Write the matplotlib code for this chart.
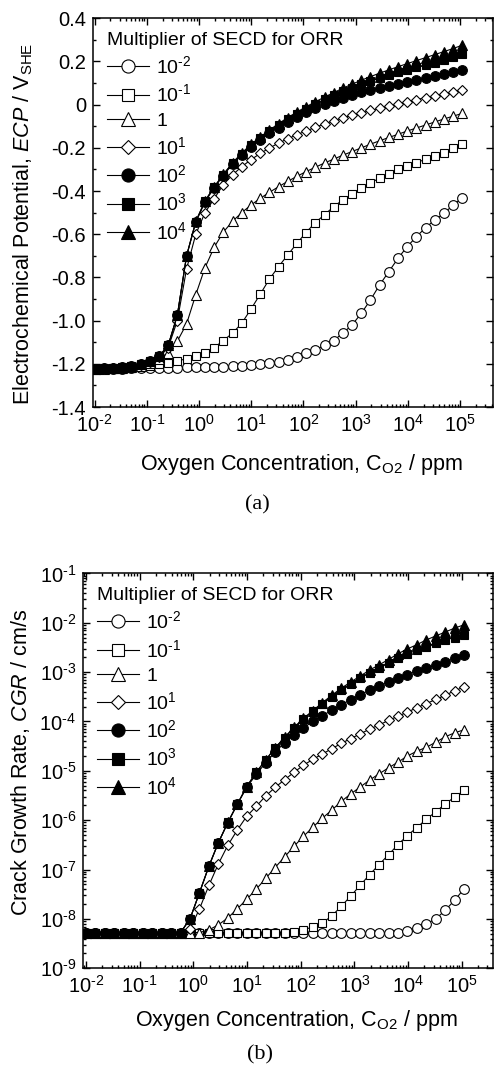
import numpy as np
import matplotlib
matplotlib.use("Agg")
import matplotlib.pyplot as plt
from matplotlib.ticker import FixedLocator, FuncFormatter, LogLocator, NullFormatter, MultipleLocator

# oxygen concentration grid (ppm), same for every curve
C_O2 = [0.01, 0.015, 0.0225, 0.0338, 0.0506, 0.0759, 0.114, 0.171, 0.256, 0.384,
        0.577, 0.865, 1.30, 1.95, 2.92, 4.38, 6.57, 9.85, 14.8, 22.2,
        33.3, 49.9, 74.8, 112, 168, 253, 379, 568, 852, 1280,
        1920, 2880, 4320, 6480, 9710, 14600, 21900, 32800, 49300, 73900,
        111000]

LABELS = ["$10^{\\text{-}2}$", "$10^{\\text{-}1}$", "1", "$10^{1}$", "$10^{2}$", "$10^{3}$", "$10^{4}$"]

# (a) ECP / V_SHE
ECP_M2 = [-1.223, -1.223, -1.222, -1.222, -1.221, -1.221, -1.220, -1.220, -1.219, -1.218,
          -1.217, -1.216, -1.215, -1.214, -1.213, -1.212, -1.209, -1.206, -1.202, -1.197,
          -1.191, -1.182, -1.169, -1.151, -1.135, -1.115, -1.092, -1.058, -1.020, -0.966,
          -0.904, -0.834, -0.773, -0.711, -0.657, -0.611, -0.569, -0.534, -0.503, -0.464,
          -0.430]
ECP_M1 = [-1.222, -1.222, -1.221, -1.220, -1.218, -1.215, -1.210, -1.203, -1.194, -1.185,
          -1.178, -1.163, -1.148, -1.125, -1.092, -1.058, -1.012, -0.947, -0.878, -0.808,
          -0.750, -0.696, -0.642, -0.592, -0.546, -0.510, -0.472, -0.441, -0.415, -0.387,
          -0.361, -0.341, -0.320, -0.300, -0.284, -0.268, -0.253, -0.237, -0.222, -0.202,
          -0.183]
ECP_1 = [-1.222, -1.222, -1.221, -1.219, -1.215, -1.208, -1.196, -1.178, -1.150, -1.095,
         -1.015, -0.880, -0.755, -0.660, -0.590, -0.540, -0.500, -0.465, -0.434, -0.406,
         -0.380, -0.355, -0.332, -0.310, -0.290, -0.270, -0.252, -0.234, -0.217, -0.200,
         -0.183, -0.167, -0.152, -0.137, -0.122, -0.108, -0.094, -0.080, -0.066, -0.053,
         -0.040]
ECP_10 = [-1.222, -1.222, -1.221, -1.219, -1.214, -1.206, -1.192, -1.170, -1.125, -1.000,
          -0.760, -0.600, -0.500, -0.435, -0.370, -0.325, -0.287, -0.255, -0.226, -0.201,
          -0.178, -0.158, -0.139, -0.122, -0.105, -0.089, -0.074, -0.061, -0.049, -0.038,
          -0.027, -0.017, -0.007, 0.003, 0.013, 0.023, 0.033, 0.042, 0.051, 0.060,
          0.070]
ECP_100 = [-1.222, -1.220, -1.218, -1.214, -1.208, -1.199, -1.186, -1.165, -1.115, -0.975,
           -0.700, -0.545, -0.450, -0.385, -0.328, -0.275, -0.232, -0.195, -0.163, -0.133,
           -0.106, -0.081, -0.058, -0.036, -0.017, 0.002, 0.018, 0.032, 0.045, 0.057,
           0.068, 0.078, 0.088, 0.097, 0.106, 0.115, 0.123, 0.132, 0.140, 0.149,
           0.160]
ECP_1000 = [-1.222, -1.220, -1.218, -1.214, -1.208, -1.199, -1.186, -1.165, -1.115, -0.975,
            -0.700, -0.542, -0.447, -0.382, -0.324, -0.271, -0.227, -0.188, -0.155, -0.124,
            -0.095, -0.067, -0.042, -0.018, 0.004, 0.024, 0.043, 0.061, 0.078, 0.094,
            0.109, 0.123, 0.136, 0.149, 0.161, 0.173, 0.184, 0.195, 0.206, 0.222,
            0.233]
ECP_10000 = [-1.222, -1.220, -1.218, -1.214, -1.208, -1.199, -1.186, -1.165, -1.115, -0.975,
             -0.700, -0.540, -0.445, -0.380, -0.322, -0.269, -0.224, -0.184, -0.150, -0.118,
             -0.088, -0.060, -0.034, -0.010, 0.013, 0.035, 0.056, 0.076, 0.095, 0.113,
             0.130, 0.146, 0.161, 0.176, 0.190, 0.204, 0.218, 0.232, 0.246, 0.260,
             0.276]

# (b) CGR / cm/s
CGR_M2 = [5.3e-9] * 34 + [5.6e-9, 6.6e-9, 8.0e-9, 1.0e-8, 1.5e-8, 2.4e-8, 4.1e-8]
CGR_M1 = [5.3e-9] * 22 + [5.4e-9, 6.0e-9, 6.9e-9, 8.3e-9, 1.15e-8, 1.8e-8, 2.9e-8, 4.8e-8,
                          7.9e-8, 1.26e-7, 2.0e-7, 3.2e-7, 4.9e-7, 7.1e-7, 1.05e-6, 1.48e-6,
                          2.14e-6, 2.95e-6, 4.0e-6]
CGR_1 = [5.3e-9] * 13 + [6.0e-9, 7.6e-9, 1.05e-8, 1.6e-8, 2.5e-8, 4.0e-8, 6.6e-8,
                         1.1e-7, 1.8e-7, 2.95e-7, 4.7e-7, 7.2e-7, 1.1e-6, 1.6e-6, 2.4e-6,
                         3.4e-6, 4.7e-6, 6.5e-6, 8.7e-6, 1.15e-5, 1.5e-5, 2.0e-5, 2.5e-5,
                         3.0e-5, 3.8e-5, 4.9e-5, 5.9e-5, 6.8e-5]
CGR_10 = [5.3e-9] * 11 + [6.2e-9, 1.6e-8, 4.8e-8, 1.3e-7, 3.1e-7, 6.3e-7, 1.2e-6, 1.9e-6,
                          3.1e-6, 4.6e-6, 6.6e-6, 9.3e-6, 1.3e-5, 1.7e-5, 2.2e-5, 2.8e-5,
                          3.6e-5, 4.5e-5, 5.6e-5, 7.0e-5, 8.5e-5, 1.05e-4, 1.28e-4, 1.55e-4,
                          1.9e-4, 2.3e-4, 2.8e-4, 3.4e-4, 4.2e-4, 5.0e-4]
CGR_100 = [5.3e-9] * 11 + [1.0e-8, 3.4e-8, 1.17e-7, 3.5e-7, 8.9e-7, 2.1e-6, 4.6e-6, 8.5e-6,
                           1.45e-5, 2.4e-5, 3.7e-5, 5.4e-5, 7.4e-5, 1.0e-4, 1.3e-4, 1.7e-4,
                           2.2e-4, 2.75e-4, 3.5e-4, 4.3e-4, 5.2e-4, 6.3e-4, 7.6e-4, 8.9e-4,
                           1.05e-3, 1.2e-3, 1.4e-3, 1.6e-3, 1.9e-3, 2.2e-3]
CGR_1000 = [5.3e-9] * 11 + [1.0e-8, 3.4e-8, 1.18e-7, 3.5e-7, 9.0e-7, 2.1e-6, 4.8e-6, 9.3e-6,
                            1.66e-5, 2.9e-5, 4.7e-5, 7.4e-5, 1.12e-4, 1.62e-4, 2.3e-4, 3.2e-4,
                            4.4e-4, 5.8e-4, 7.6e-4, 9.8e-4, 1.23e-3, 1.55e-3, 1.9e-3, 2.35e-3,
                            2.8e-3, 3.3e-3, 3.9e-3, 4.5e-3, 5.0e-3, 5.6e-3]
CGR_10000 = [5.3e-9] * 11 + [1.0e-8, 3.4e-8, 1.18e-7, 3.5e-7, 9.0e-7, 2.1e-6, 4.8e-6, 9.3e-6,
                             1.66e-5, 2.9e-5, 4.8e-5, 7.6e-5, 1.15e-4, 1.66e-4, 2.4e-4, 3.4e-4,
                             4.7e-4, 6.3e-4, 8.3e-4, 1.1e-3, 1.4e-3, 1.8e-3, 2.35e-3, 2.95e-3,
                             3.6e-3, 4.5e-3, 5.4e-3, 6.5e-3, 7.8e-3, 9.1e-3]

ECP_SERIES = [ECP_M2, ECP_M1, ECP_1, ECP_10, ECP_100, ECP_1000, ECP_10000]
CGR_SERIES = [CGR_M2, CGR_M1, CGR_1, CGR_10, CGR_100, CGR_1000, CGR_10000]

MARKERS = ["o", "s", "^", "D", "o", "s", "^"]
FILLED = [False, False, False, False, True, True, True]
MSIZE = [7.0, 6.4, 7.4, 5.6, 7.0, 6.4, 7.4]

plt.rcParams.update({
    "font.family": "Liberation Sans",
    "mathtext.fontset": "custom",
    "mathtext.rm": "Liberation Sans",
    "mathtext.it": "Liberation Sans:italic",
    "mathtext.bf": "Liberation Sans:bold",
    "axes.linewidth": 1.1,
})


def pow10(v, _):
    e = int(round(np.log10(v)))
    if e < 0:
        return f"$10^{{\\text{{-}}{-e}}}$"
    return f"$10^{{{e}}}$"


fig = plt.figure(figsize=(4.95, 10.88), dpi=100)
ax_a = fig.add_axes([0.188, 0.6259, 0.808, 0.3573])
ax_b = fig.add_axes([0.1677, 0.110, 0.828, 0.363])


def draw_curves(ax, series):
    for ys, mk, filled, ms, lab in zip(series, MARKERS, FILLED, MSIZE, LABELS):
        ax.plot(C_O2, ys, color="black", lw=0.8, marker=mk, ms=ms,
                mfc="black" if filled else "white", mec="black", mew=0.8,
                label=lab)


def style_axes(ax):
    ax.set_xscale("log")
    ax.xaxis.set_major_locator(FixedLocator([10.0 ** e for e in range(-2, 6)]))
    ax.xaxis.set_minor_locator(LogLocator(base=10, subs=np.arange(2, 10), numticks=20))
    ax.xaxis.set_minor_formatter(NullFormatter())
    ax.xaxis.set_major_formatter(FuncFormatter(pow10))
    ax.tick_params(which="both", direction="in", top=True, right=True, labelsize=14.5, width=1.0)
    ax.tick_params(which="major", length=5, pad=5)
    ax.tick_params(which="minor", length=2.5)
    leg = ax.legend(loc="upper left", bbox_to_anchor=(0.0, 1.0), frameon=False,
                    title="Multiplier of SECD for ORR", fontsize=14, title_fontsize=14,
                    handlelength=2.2, handletextpad=0.35, labelspacing=0.33,
                    markerscale=1.35, alignment="left", borderpad=0.5,
                    borderaxespad=0.2)
    return leg


# ---- (a) ----
draw_curves(ax_a, ECP_SERIES)
style_axes(ax_a)
ax_a.set_xlim(10 ** -2.03, 10 ** 5.63)
ax_a.set_ylim(-1.4, 0.4)
ax_a.yaxis.set_major_locator(MultipleLocator(0.2))
ax_a.yaxis.set_minor_locator(MultipleLocator(0.1))
ax_a.yaxis.set_major_formatter(FuncFormatter(lambda v, _: "0" if abs(v) < 1e-9 else f"{v:.1f}"))
ax_a.set_ylabel("Electrochemical Potential, $\\mathit{ECP}$ / V$_{\\mathrm{SHE}}$", fontsize=15.5)
ax_a.yaxis.set_label_coords(-0.145, 0.47)
ax_a.set_xlabel("Oxygen Concentration, C$_{\\mathrm{O2}}$ / ppm", fontsize=15.5)
ax_a.xaxis.set_label_coords(0.52, -0.115)

# ---- (b) ----
draw_curves(ax_b, CGR_SERIES)
style_axes(ax_b)
ax_b.set_xlim(10 ** -2.056, 10 ** 5.58)
ax_b.set_yscale("log")
ax_b.set_ylim(1e-9, 1e-1)
ax_b.yaxis.set_major_locator(FixedLocator([10.0 ** e for e in range(-9, 0)]))
ax_b.yaxis.set_minor_locator(LogLocator(base=10, subs=np.arange(2, 10), numticks=20))
ax_b.yaxis.set_minor_formatter(NullFormatter())
ax_b.yaxis.set_major_formatter(FuncFormatter(pow10))
ax_b.set_ylabel("Crack Growth Rate, $\\mathit{CGR}$ / cm/s", fontsize=15.5)
ax_b.yaxis.set_label_coords(-0.125, 0.52)
ax_b.set_xlabel("Oxygen Concentration, C$_{\\mathrm{O2}}$ / ppm", fontsize=15.5)
ax_b.xaxis.set_label_coords(0.52, -0.1)

fig.text(0.519, 1 - 505 / 1088, "(a)", family="Liberation Serif", fontsize=16,
         ha="center", va="center")
fig.text(0.525, 1 - 1055 / 1088, "(b)", family="Liberation Serif", fontsize=16,
         ha="center", va="center")

fig.savefig("out.png", dpi=100)
